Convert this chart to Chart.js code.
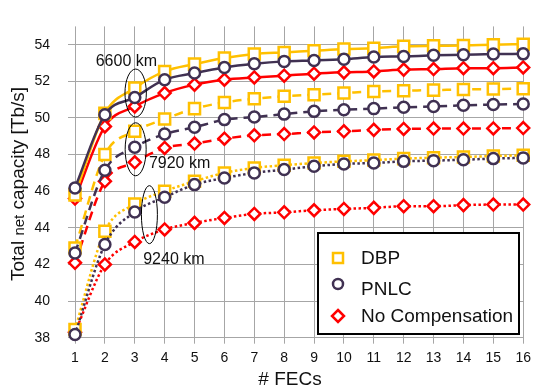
<!DOCTYPE html>
<html>
<head>
<meta charset="utf-8">
<script src="https://cdn.jsdelivr.net/npm/chart.js@4.4.1/dist/chart.umd.min.js"></script>
<style>
    html, body { margin: 0; padding: 0; background: #fff; }
    #wrap { width: 537px; height: 390px; }
</style>
</head>
<body>
<div id="wrap"><canvas id="myChart" width="537" height="390"></canvas></div>
<script>
// x values (# FECs)
const fecs = [1, 2, 3, 4, 5, 6, 7, 8, 9, 10, 11, 12, 13, 14, 15, 16];
const yTicks = [38, 40, 42, 44, 46, 48, 50, 52, 54];

// 6600 km (solid)
const dbp6600 = [45.8, 50.25, 51.63, 52.54, 52.94, 53.27, 53.49, 53.58, 53.67, 53.76, 53.81, 53.91, 53.94, 53.96, 54.0, 54.03];
const pnlc6600 = [46.18, 50.18, 51.12, 52.09, 52.45, 52.76, 52.96, 53.09, 53.14, 53.21, 53.33, 53.36, 53.42, 53.45, 53.49, 53.5];
const noComp6600 = [45.6, 49.54, 50.63, 51.36, 51.82, 52.09, 52.21, 52.31, 52.42, 52.49, 52.54, 52.64, 52.67, 52.72, 52.72, 52.76];

// 7920 km (dashed)
const dbp7920 = [42.9, 48.0, 49.27, 49.94, 50.51, 50.85, 51.05, 51.18, 51.27, 51.36, 51.45, 51.49, 51.52, 51.56, 51.58, 51.6];
const pnlc7920 = [42.63, 47.14, 48.4, 49.12, 49.49, 49.91, 50.05, 50.21, 50.36, 50.45, 50.51, 50.58, 50.63, 50.69, 50.73, 50.76];
const noComp7920 = [42.09, 46.54, 47.58, 48.36, 48.6, 48.87, 49.05, 49.12, 49.21, 49.27, 49.35, 49.4, 49.42, 49.42, 49.43, 49.45];

// 9240 km (dotted)
const dbp9240 = [38.45, 43.81, 45.3, 46.0, 46.54, 47.0, 47.27, 47.42, 47.54, 47.63, 47.7, 47.78, 47.83, 47.87, 47.92, 47.96];
const pnlc9240 = [38.18, 43.09, 44.87, 45.67, 46.36, 46.72, 47.0, 47.18, 47.36, 47.49, 47.54, 47.63, 47.67, 47.72, 47.78, 47.82];
const noComp9240 = [38.3, 42.0, 43.23, 43.91, 44.27, 44.54, 44.76, 44.85, 44.96, 45.03, 45.09, 45.18, 45.18, 45.24, 45.27, 45.27];

const legendLabels = ['DBP', 'PNLC', 'No Compensation'];

// distance labels, placed in data units: [text, x, y]
const distLabels = [['6600 km', 2.72, 52.82], ['7920 km', 4.5, 47.29], ['9240 km', 4.31, 42.0]];
// ellipse centres in data units
const ellipseCentres = [[3.03, 51.36], [3.03, 48.29], [3.49, 44.72]];

(()=>{
    const ctx = document.getElementById('myChart');
    const FONT = "'Liberation Sans', Arial, sans-serif";

    const YELLOW = '#ffc000';
    const PURPLE = '#403152';
    const RED = '#ff0000';

    const styles = {
        solid: [],
        dashed: [9, 6],
        dotted: [2.5, 2.5]
    };

    const makeSet = (label, values, color, dash, pointStyle, radius) => ({
        label: label,
        data: values.map((v, i) => ({x: fecs[i], y: v})),
        borderColor: color,
        backgroundColor: '#fff',
        borderWidth: 2.5,
        borderDash: dash,
        pointStyle: pointStyle,
        pointRadius: radius,
        pointHoverRadius: radius,
        pointBorderWidth: 2.5,
        pointBorderColor: color,
        pointBackgroundColor: '#fff',
        cubicInterpolationMode: 'monotone',
        fill: false,
        clip: false
    });

    // first dataset is drawn on top
    const datasets = [
        makeSet('PNLC', pnlc6600, PURPLE, styles.solid, 'circle', 5.5),
        makeSet('PNLC', pnlc7920, PURPLE, styles.dashed, 'circle', 5.5),
        makeSet('PNLC', pnlc9240, PURPLE, styles.dotted, 'circle', 5.5),
        makeSet('DBP', dbp6600, YELLOW, styles.solid, 'rect', 7.8),
        makeSet('DBP', dbp7920, YELLOW, styles.dashed, 'rect', 7.8),
        makeSet('DBP', dbp9240, YELLOW, styles.dotted, 'rect', 7.8),
        makeSet('No Compensation', noComp6600, RED, styles.solid, 'rectRot', 6),
        makeSet('No Compensation', noComp7920, RED, styles.dashed, 'rectRot', 6),
        makeSet('No Compensation', noComp9240, RED, styles.dotted, 'rectRot', 6)
    ];

    // axis titles, km labels, ellipses and the boxed legend
    const extras = {
        id: 'extras',
        afterDatasetsDraw(chart) {
            const c = chart.ctx;
            const xs = chart.scales.x;
            const ys = chart.scales.y;
            c.save();

            // ellipses + km labels
            c.strokeStyle = '#000';
            c.lineWidth = 1;
            const radii = [[10.7, 24], [10.5, 26.5], [8, 29]];
            ellipseCentres.forEach((e, i) => {
                c.beginPath();
                c.ellipse(xs.getPixelForValue(e[0]), ys.getPixelForValue(e[1]), radii[i][0], radii[i][1], 0, 0, Math.PI * 2);
                c.stroke();
            });
            c.fillStyle = '#111';
            c.font = '16px ' + FONT;
            c.textAlign = 'center';
            c.textBaseline = 'alphabetic';
            distLabels.forEach(l => {
                c.fillText(l[0], xs.getPixelForValue(l[1]), ys.getPixelForValue(l[2]));
            });

            // legend
            const bx = 318, by = 233, bw = 201, bh = 101;
            c.fillStyle = '#fff';
            c.fillRect(bx, by, bw, bh);
            c.lineWidth = 2;
            c.strokeStyle = '#000';
            c.strokeRect(bx, by, bw, bh);

            const rows = [258, 284, 316];
            const baselines = [264, 295, 322];
            const colors = [YELLOW, PURPLE, RED];
            c.lineWidth = 2.5;
            rows.forEach((ry, i) => {
                c.strokeStyle = colors[i];
                c.beginPath();
                if (i === 0) {
                    c.rect(338 - 5, ry - 5, 10, 10);
                } else if (i === 1) {
                    c.arc(338, ry, 5, 0, Math.PI * 2);
                } else {
                    c.moveTo(338, ry - 6);
                    c.lineTo(344, ry);
                    c.lineTo(338, ry + 6);
                    c.lineTo(332, ry);
                    c.closePath();
                }
                c.fillStyle = '#fff';
                c.fill();
                c.stroke();
            });
            c.fillStyle = '#111';
            c.font = '19px ' + FONT;
            c.textAlign = 'left';
            legendLabels.forEach((t, i) => c.fillText(t, 361, baselines[i]));

            // x title
            c.font = '19px ' + FONT;
            c.textAlign = 'center';
            c.fillText('# FECs', 290, 385);

            // y title with the smaller "net"
            const parts = [['Total ', 19], ['net', 15], [' capacity [Tb/s]', 19]];
            let total = 0;
            parts.forEach(p => { c.font = p[1] + 'px ' + FONT; total += c.measureText(p[0]).width; });
            c.translate(24, 184);
            c.rotate(-Math.PI / 2);
            c.textAlign = 'left';
            let pos = -total / 2;
            parts.forEach(p => {
                c.font = p[1] + 'px ' + FONT;
                c.fillText(p[0], pos, 0);
                pos += c.measureText(p[0]).width;
            });
            c.restore();
        }
    };

    new Chart(ctx, {
        type: 'line',
        data: { datasets: datasets },
        plugins: [extras],
        options: {
            responsive: false,
            animation: false,
            layout: { padding: { top: 25, right: 12, left: 0, bottom: 0 } },
            plugins: {
                legend: { display: false },
                tooltip: { enabled: false }
            },
            scales: {
                x: {
                    type: 'linear',
                    min: 1,
                    max: 16,
                    afterFit: (scale) => { scale.height = 52.3; },
                    ticks: {
                        stepSize: 1,
                        padding: 6,
                        color: '#111',
                        font: { family: FONT, size: 14 }
                    },
                    grid: { color: '#a6a6a6', lineWidth: 1, tickLength: 6 },
                    border: { display: false }
                },
                y: {
                    min: 38,
                    max: 55,
                    afterFit: (scale) => { scale.width = 75; },
                    afterBuildTicks: (scale) => { scale.ticks = yTicks.map(v => ({value: v})); },
                    ticks: {
                        padding: 18,
                        color: '#111',
                        font: { family: FONT, size: 14 }
                    },
                    grid: { color: '#a6a6a6', lineWidth: 1, tickLength: 7 },
                    border: { display: false }
                }
            }
        }
    });
})()
</script>
</body>
</html>
